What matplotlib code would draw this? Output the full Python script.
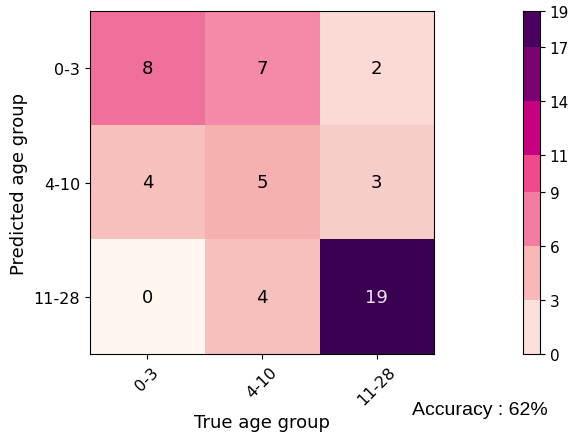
import numpy as np
import matplotlib
matplotlib.use("Agg")
import matplotlib.pyplot as plt
from matplotlib.colors import LinearSegmentedColormap

# confusion matrix: rows = predicted, columns = true
groups = ["0-3", "4-10", "11-28"]
counts = np.array([[8, 7, 2],
                   [4, 5, 3],
                   [0, 4, 19]])
cbar_bounds = [0, 3, 6, 9, 11, 14, 17, 19]
accuracy = 62

# pink-purple scale (value -> colour)
cmap_vals = [0, 1.5, 3, 4, 5, 7, 8, 10, 12.5, 15.5, 18, 19]
cmap_cols = ["#fff6f0", "#fde0dc", "#f7cdca", "#f8c0bc", "#f6b0b0", "#f58ba8",
             "#f0709c", "#ee4a8c", "#c7007f", "#7a016f", "#4a0060", "#3a0052"]
vmax = counts.max()
cmap = LinearSegmentedColormap.from_list(
    "agepink", [(v / vmax, c) for v, c in zip(cmap_vals, cmap_cols)])

fig = plt.figure(figsize=(5.73, 4.35), dpi=100)
ax = fig.add_axes([90 / 573, 1 - 355 / 435, 344 / 573, 343 / 435])
cax = fig.add_axes([523 / 573, 1 - 355 / 435, 17 / 573, 343 / 435])

im = ax.imshow(counts, cmap=cmap, vmin=0, vmax=vmax, aspect="auto")
for i in range(counts.shape[0]):
    for j in range(counts.shape[1]):
        v = counts[i, j]
        ax.text(j, i, str(v), ha="center", va="center", fontsize=13,
                color="#f0e0f4" if v > 12 else "black")

ax.set_xticks(range(len(groups)))
ax.set_xticklabels(groups, rotation=45, fontsize=11.5)
ax.set_yticks(range(len(groups)))
ax.set_yticklabels(groups, fontsize=11.5)
ax.set_xlabel("True age group", fontsize=13)
ax.set_ylabel("Predicted age group", fontsize=13)

cb = fig.colorbar(im, cax=cax, boundaries=cbar_bounds, ticks=cbar_bounds,
                  spacing="proportional")
cb.ax.tick_params(labelsize=11)

fig.text(480 / 573, 1 - 411 / 435, "Accuracy : %d%%" % accuracy,
         ha="center", va="center", fontsize=14, family="Liberation Sans")

fig.savefig("out.png", dpi=100)
